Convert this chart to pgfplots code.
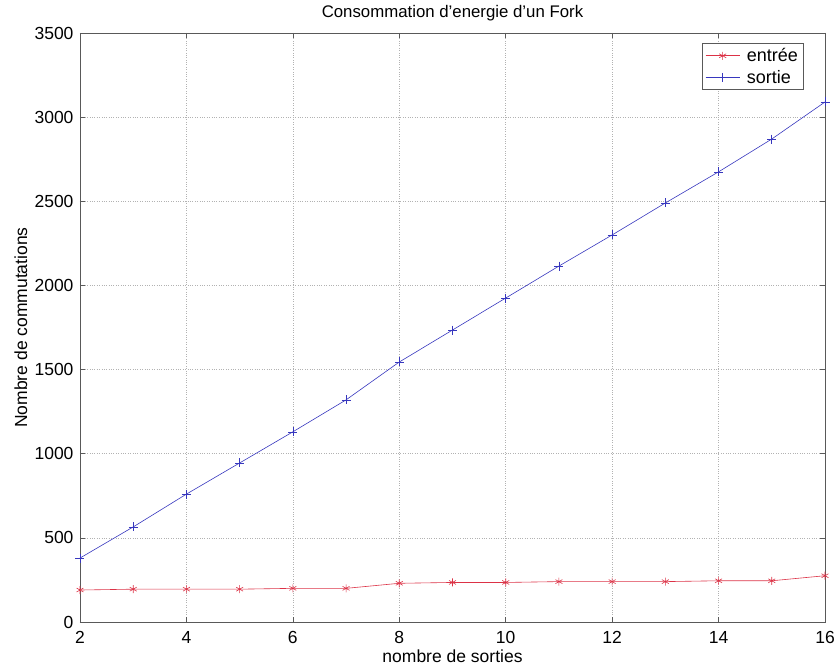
\documentclass[border=0pt]{standalone}
\usepackage{pgfplots}
\pgfplotsset{compat=1.18}
\usepackage{fontspec}
\setmainfont{Liberation Sans}
\definecolor{mred}{RGB}{220,50,70}
\definecolor{mblue}{RGB}{55,55,190}
\begin{document}
\begin{tikzpicture}
\begin{axis}[
  scale only axis, width=745bp, height=589bp,
  xmin=2, xmax=16, ymin=0, ymax=3500,
  xtick={2,4,...,16}, ytick={0,500,...,3500},
  grid=major, major grid style={dotted, gray!60, line width=0.6pt},
  axis line style={gray!70!black, line width=0.9pt},
  tick style={gray!70!black, line width=0.7pt},
  tick align=inside, major tick length=5bp,
  font=\fontsize{17.5bp}{20bp}\selectfont,
  /pgf/number format/assume math mode=true,
  yticklabel style={/pgf/number format/1000 sep={}, xshift=-3bp},
  xticklabel style={anchor=base, yshift=-21bp},
  scaled y ticks=false,
  title={Consommation d'energie d'un Fork},
  title style={font=\fontsize{16.8bp}{18bp}\selectfont, at={(axis description cs:0.5,1)}, anchor=base, yshift=10bp},
  xlabel={nombre de sorties},
  ylabel={Nombre de commutations},
  xlabel style={at={(axis description cs:0.5,-0.0696)}, anchor=base},
  ylabel style={at={(axis description cs:-0.0711,0.5)}, rotate=0, anchor=base},
  legend style={at={(0.971,0.983)}, anchor=north east, draw=gray!70!black, line width=0.8pt, font=\fontsize{18bp}{20bp}\selectfont, cells={anchor=west}, row sep=3bp, inner sep=3bp, /tikz/every odd column/.append style={column sep=5bp}},
  legend image code/.code={\draw[mark repeat=2,mark phase=2] plot coordinates {(0bp,0bp)(17bp,0bp)(34bp,0bp)};},
  legend cell align=left,
]
\addplot[mred, line width=0.6pt, mark=asterisk, mark size=4bp, mark options={line width=0.6pt}] coordinates {
(2,190)(3,195)(4,195)(5,195)(6,200)(7,200)(8,230)(9,235)(10,235)(11,240)(12,240)(13,240)(14,245)(15,245)(16,275)};
\addlegendentry{entrée}
\addplot[mblue, line width=0.6pt, mark=+, mark size=4.5bp, mark options={line width=0.6pt}] coordinates {
(2,380)(3,565)(4,760)(5,945)(6,1130)(7,1320)(8,1545)(9,1735)(10,1925)(11,2115)(12,2300)(13,2490)(14,2675)(15,2870)(16,3090)};
\addlegendentry{sortie}
\end{axis}
\pgfresetboundingbox
\path[use as bounding box] (-80bp,-46bp) rectangle (756bp,622bp);
\end{tikzpicture}
\end{document}
